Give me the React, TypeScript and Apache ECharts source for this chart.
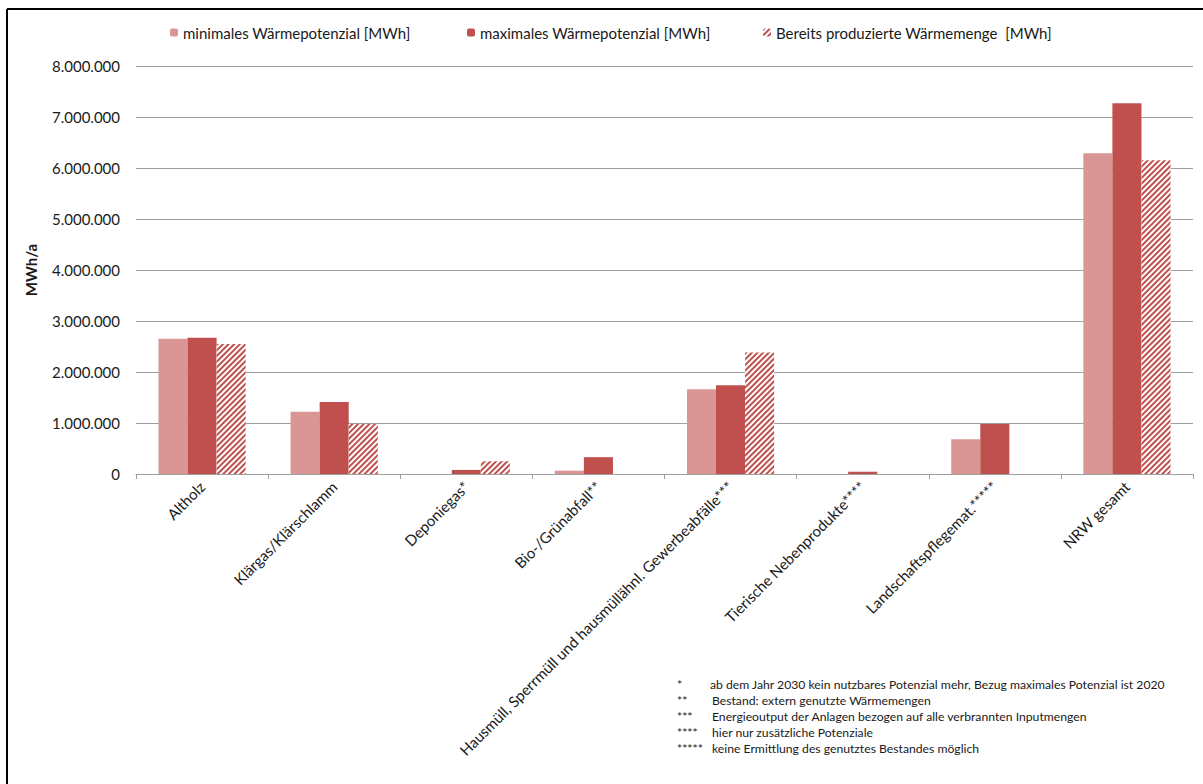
import React, { useEffect, useRef } from "react";
import * as echarts from "echarts";

const categories = [
  "Altholz",
  "Klärgas/Klärschlamm",
  "Deponiegas*",
  "Bio-/Grünabfall**",
  "Hausmüll, Sperrmüll und hausmüllähnl. Gewerbeabfälle***",
  "Tierische Nebenprodukte****",
  "Landschaftspflegemat.*****",
  "NRW gesamt",
];
const minValues = [2650000, 1220000, 0, 65000, 1660000, 0, 680000, 6290000];
const maxValues = [2670000, 1410000, 80000, 330000, 1740000, 45000, 980000, 7270000];
const producedValues = [2550000, 980000, 250000, 0, 2380000, 0, 0, 6150000];
const seriesNames = [
  "minimales Wärmepotenzial [MWh]",
  "maximales Wärmepotenzial [MWh]",
  "Bereits produzierte Wärmemenge  [MWh]",
];
const footnoteMarks = ["*", "**", "***", "****", "*****"];
const footnoteTexts = [
  "ab dem Jahr 2030 kein nutzbares Potenzial mehr, Bezug maximales Potenzial ist 2020",
  "Bestand: extern genutzte Wärmemengen",
  "Energieoutput der Anlagen bezogen auf alle verbrannten Inputmengen",
  "hier nur zusätzliche Potenziale",
  "keine Ermittlung des genutztes Bestandes möglich",
];

const FONT = "Lato, 'Open Sans', sans-serif";
const LIGHT = "#D99694";
const DARK = "#C0504D";
const TEXT = "#1a1a1a";

const fmt = (v: number) => {
  const s = Math.round(v).toString();
  return s.replace(/\B(?=(\d{3})+(?!\d))/g, ".");
};

const hatch = {
  symbol: "rect",
  symbolSize: 1,
  color: DARK,
  dashArrayX: [1, 0],
  dashArrayY: [2, 2],
  rotation: -Math.PI / 4,
};

export default function App() {
  const ref = useRef<HTMLDivElement>(null);
  useEffect(() => {
    if (!ref.current) return;
    const chart = echarts.init(ref.current, undefined, { renderer: "svg" });
    const legendBase = {
      top: 20,
      itemWidth: 8,
      itemHeight: 8,
      textStyle: { fontFamily: FONT, fontSize: 15, color: TEXT },
      itemGap: 4,
    };
    chart.setOption({
      animation: false,
      backgroundColor: "#fff",
      textStyle: { fontFamily: FONT },
      legend: [
        { ...legendBase, left: 165, data: [seriesNames[0]] },
        { ...legendBase, left: 462, data: [seriesNames[1]] },
        { ...legendBase, left: 758, data: [seriesNames[2]] },
      ],
      grid: { left: 136, right: 10, top: 66, bottom: 310, containLabel: false },
      xAxis: {
        type: "category",
        data: categories,
        axisLine: { lineStyle: { color: "#A0A0A0", width: 1 } },
        axisTick: { show: true, length: 5, lineStyle: { color: "#A0A0A0" } },
        axisLabel: {
          rotate: 45,
          interval: 0,
          margin: 10,
          fontFamily: FONT,
          fontSize: 15,
          color: TEXT,
        },
      },
      yAxis: {
        type: "value",
        min: 0,
        max: 8000000,
        interval: 1000000,
        name: "MWh/a",
        nameLocation: "middle",
        nameGap: 98,
        nameRotate: 90,
        nameTextStyle: { fontFamily: FONT, fontSize: 15, fontWeight: "bold", color: TEXT },
        axisLine: { show: false },
        axisTick: { show: false },
        splitLine: { lineStyle: { color: "#A0A0A0", width: 1 } },
        axisLabel: {
          formatter: (v: number) => fmt(v),
          fontFamily: FONT,
          fontSize: 15,
          color: TEXT,
          margin: 16,
        },
      },
      series: [
        {
          name: seriesNames[0],
          type: "bar",
          data: minValues,
          barGap: "0%",
          barCategoryGap: "34%",
          itemStyle: { color: LIGHT },
        },
        {
          name: seriesNames[1],
          type: "bar",
          data: maxValues,
          itemStyle: { color: DARK },
        },
        {
          name: seriesNames[2],
          type: "bar",
          data: producedValues,
          itemStyle: { color: "#fff", decal: hatch },
        },
      ],
      graphic: [
        { type: "line", shape: { x1: 7, y1: 9, x2: 1203, y2: 9 }, style: { stroke: "#000", lineWidth: 2 } },
        { type: "line", shape: { x1: 7, y1: 9, x2: 7, y2: 784 }, style: { stroke: "#000", lineWidth: 2 } },
        ...footnoteMarks.map((m, i) => ({
          type: "text",
          left: 677,
          top: 678 + i * 16,
          style: { text: m, fontFamily: FONT, fontSize: 12.2, fill: TEXT },
        })),
        ...footnoteTexts.map((t, i) => ({
          type: "text",
          left: i === 0 ? 710 : 712,
          top: 678 + i * 16,
          style: { text: t, fontFamily: FONT, fontSize: 12.2, fill: TEXT },
        })),
      ],
    });
    return () => chart.dispose();
  }, []);
  return <div ref={ref} style={{ width: 1203, height: 784, position: "absolute", left: 0, top: 0 }} />;
}
